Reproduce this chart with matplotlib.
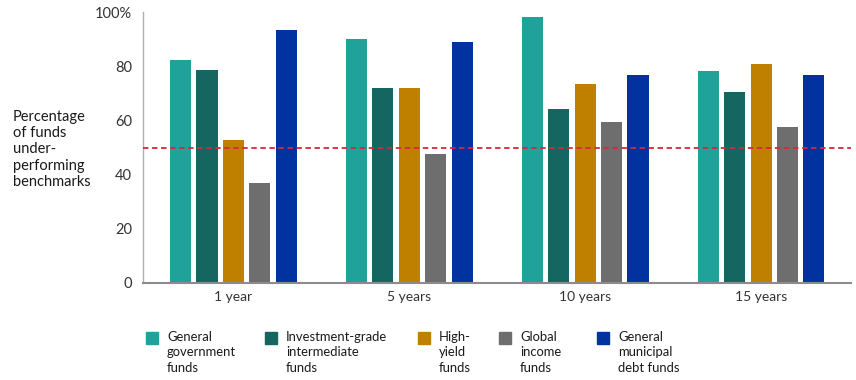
import numpy as np
import matplotlib.pyplot as plt
from matplotlib.patches import Rectangle

plt.rcParams['font.family'] = ['Lato', 'DejaVu Sans']

periods = ['1 year', '5 years', '10 years', '15 years']
series = ['General\ngovernment\nfunds', 'Investment-grade\nintermediate\nfunds',
          'High-\nyield\nfunds', 'Global\nincome\nfunds', 'General\nmunicipal\ndebt funds']
gov = [82.3, 90.0, 98.0, 78.1]
inv_grade = [78.7, 71.8, 64.2, 70.4]
high_yield = [52.8, 72.1, 73.4, 80.8]
global_income = [36.8, 47.5, 59.5, 57.7]
municipal = [93.2, 89.1, 76.9, 76.9]
benchmark = 50
yticks = [0, 20, 40, 60, 80, 100]
ytick_labels = ['0', '20', '40', '60', '80', '100%']

colors = ['#1fa29a', '#156660', '#bf8000', '#6e6e6e', '#0033a0']
values = [gov, inv_grade, high_yield, global_income, municipal]

fig = plt.figure(figsize=(8.56, 3.8), dpi=100)
ax = fig.add_axes([143 / 856, 1 - 283 / 380, 708 / 856, 271 / 380])

x = np.arange(len(periods))
step = 0.15
for i, (vals, c) in enumerate(zip(values, colors)):
    ax.bar(x + (i - 2) * step, vals, width=0.12, color=c, zorder=2)

ax.axhline(benchmark, color='#d9263a', lw=1.3, ls=(0, (3, 2)), zorder=3)

ax.set_xlim(-0.514, 3.511)
ax.set_ylim(0, 100)
ax.set_xticks(x)
ax.set_xticklabels(periods, fontsize=10, color='#333333')
ax.set_yticks(yticks)
ax.set_yticklabels(ytick_labels, fontsize=10.5, color='#333333')
ax.tick_params(length=0, pad=8)
ax.tick_params(axis='x', pad=6)
for s in ['top', 'right']:
    ax.spines[s].set_visible(False)
ax.spines['left'].set_color('#b0b0b0')
ax.spines['left'].set_linewidth(1)
ax.spines['bottom'].set_color('#8c8c8c')
ax.spines['bottom'].set_linewidth(1.5)

fig.text(13 / 856, 1 - 149.5 / 380, 'Percentage\nof funds\nunder-\nperforming\nbenchmarks',
         fontsize=10.5, color='#1a1a1a', va='center', ha='left', linespacing=1.19)

# legend
sq_x = [146, 265, 418, 499, 597]
for name, c, sx in zip(series, colors, sq_x):
    fig.add_artist(Rectangle((sx / 856, 1 - 344 / 380), 12 / 856, 12 / 380,
                             transform=fig.transFigure, color=c))
    fig.text((sx + 21) / 856, 1 - 331 / 380, name, fontsize=9.4, color='#1a1a1a',
             va='top', ha='left', linespacing=1.35)

fig.savefig('out.png', dpi=100)
